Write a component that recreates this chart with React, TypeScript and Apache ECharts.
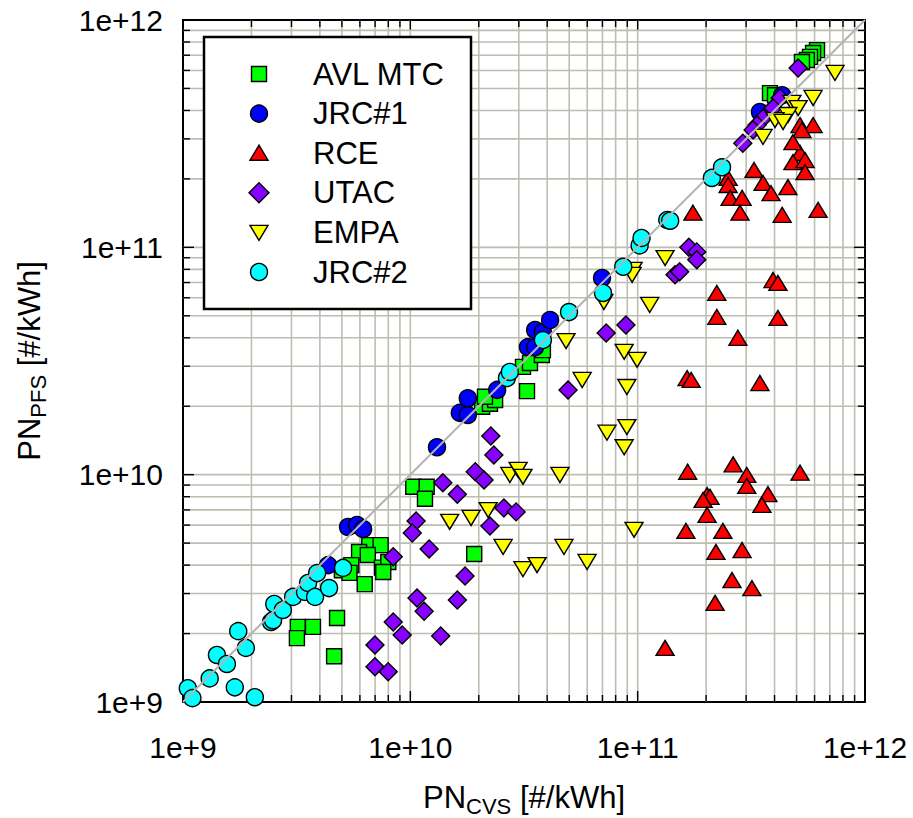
import React, { useEffect, useRef } from 'react';
import * as echarts from 'echarts';

const FONT = '"Liberation Sans", Arial, Helvetica, sans-serif';

const seriesNames = ['AVL MTC', 'JRC#1', 'RCE', 'UTAC', 'EMPA', 'JRC#2'];
const seriesColors = ['#00ff00', '#0000ff', '#ff0000', '#8800ff', '#ffff00', '#00ffff'];

const tickValues = [1e9, 1e10, 1e11, 1e12];
const xTickLabels = ['1e+9', '1e+10', '1e+11', '1e+12'];
const yTickLabels = ['1e+9', '1e+10', '1e+11', '1e+12'];
const gridDecades = [1e9, 1e10, 1e11];
const gridMultipliers = [1, 2, 3, 4, 5, 6, 7, 8, 9];

const xAxisName = ['PN', 'CVS', ' [#/kWh]'];
const yAxisName = ['PN', 'PFS', ' [#/kWh]'];

const avlMtc: [number, number][] = [
  [6.6e9, 4.9e9], [7.4e9, 4.9e9], [5.95e9, 4.57e9], [6.5e9, 4.43e9], [5.5e9, 4.0e9],
  [5.0e9, 3.8e9], [5.4e9, 3.7e9], [7.5e9, 3.9e9], [8.0e9, 4.13e9], [6.3e9, 3.3e9],
  [4.76e9, 2.34e9], [3.2e9, 2.14e9], [3.73e9, 2.14e9], [3.17e9, 1.91e9], [4.62e9, 1.59e9],
  [1.03e10, 8.85e9], [1.18e10, 8.85e9], [1.16e10, 7.83e9], [7.6e9, 3.73e9], [1.91e10, 4.48e9],
  [2.07e10, 1.99e10], [2.24e10, 2.05e10], [2.36e10, 2.13e10], [2.13e10, 2.2e10], [3.26e10, 2.33e10],
  [3.13e10, 2.98e10], [3.36e10, 3.1e10], [3.79e10, 3.36e10], [3.83e10, 3.53e10],
  [6.15e11, 7.37e11], [5.91e11, 7.16e11], [5.73e11, 6.88e11], [5.55e11, 6.67e11], [5.28e11, 6.54e11],
  [3.82e11, 4.77e11], [4.02e11, 4.67e11],
];

const jrc1: [number, number][] = [
  [4.35e9, 4.0e9], [5.32e9, 5.89e9], [5.83e9, 6.01e9], [6.2e9, 5.77e9], [1.31e10, 1.32e10],
  [1.65e10, 1.87e10], [1.79e10, 1.83e10], [1.79e10, 2.17e10], [2.41e10, 2.36e10], [3.29e10, 3.64e10],
  [3.54e10, 3.64e10], [3.54e10, 4.33e10], [3.83e10, 4.24e10], [4.12e10, 4.79e10], [6.97e10, 7.33e10],
  [3.45e11, 3.94e11], [4.32e11, 4.67e11],
];

const rce: [number, number][] = [
  [5.18e11, 2.6e11], [4.82e11, 2.37e11], [5.45e11, 2.42e11], [5.45e11, 2.14e11], [3.25e11, 2.19e11],
  [2.5e11, 2.02e11], [2.5e11, 1.88e11], [3.56e11, 1.92e11], [3.86e11, 1.73e11], [4.58e11, 1.84e11],
  [2.55e11, 1.65e11], [2.88e11, 1.65e11], [2.82e11, 1.42e11], [4.32e11, 1.39e11], [6.22e11, 1.46e11],
  [1.75e11, 1.42e11], [5.18e11, 3.45e11], [5.91e11, 3.45e11], [5.28e11, 3.28e11], [4.82e11, 2.9e11],
  [3.94e11, 7.18e10], [4.14e11, 6.97e10], [2.23e11, 6.3e10], [2.23e11, 4.94e10], [4.14e11, 4.89e10],
  [2.76e11, 4.0e10], [1.65e11, 2.66e10], [1.72e11, 2.61e10], [3.45e11, 2.53e10], [1.66e11, 1.03e10],
  [2.63e11, 1.11e10], [3.02e11, 9.97e9], [3.02e11, 8.92e9], [2.02e11, 8.13e9], [2.08e11, 7.99e9],
  [1.94e11, 7.74e9], [3.74e11, 8.21e9], [3.52e11, 7.36e9], [2.02e11, 6.65e9], [1.63e11, 5.66e9],
  [2.37e11, 5.66e9], [2.21e11, 4.57e9], [2.88e11, 4.66e9], [2.6e11, 3.44e9], [3.18e11, 3.17e9],
  [2.19e11, 2.73e9], [5.18e11, 1.02e10], [1.32e11, 1.73e9],
];

const utac: [number, number][] = [
  [8.41e9, 4.35e9], [8.41e9, 2.25e9], [9.21e9, 1.97e9], [6.99e9, 1.78e9], [6.99e9, 1.43e9],
  [7.99e9, 1.36e9], [4.94e10, 2.36e10], [2.26e10, 1.48e10], [2.33e10, 1.22e10], [1.93e10, 1.03e10],
  [2.11e10, 9.48e9], [1.39e10, 9.21e9], [1.61e10, 8.21e9], [2.58e10, 7.14e9], [2.92e10, 6.86e9],
  [2.24e10, 5.95e9], [1.06e10, 6.26e9], [1.02e10, 5.54e9], [1.21e10, 4.71e9], [1.74e10, 3.58e9],
  [1.07e10, 2.87e9], [1.15e10, 2.51e9], [1.36e10, 1.95e9], [1.61e10, 2.81e9], [1.68e11, 1.0e11],
  [1.82e11, 9.55e10], [1.82e11, 8.81e10], [1.46e11, 7.57e10], [1.53e11, 7.8e10], [8.88e10, 4.55e10],
  [7.27e10, 4.2e10], [5.08e11, 6.15e11], [4.23e11, 4.54e11], [3.94e11, 4.1e11], [3.56e11, 3.7e11],
  [3.35e11, 3.45e11], [3.22e11, 3.28e11], [2.9e11, 2.87e11],
];

const empa: [number, number][] = [
  [7.38e11, 5.85e11], [5.91e11, 4.54e11], [4.77e11, 4.32e11], [5.08e11, 4.1e11], [4.58e11, 3.82e11],
  [4.02e11, 3.63e11], [4.36e11, 3.56e11], [3.56e11, 3.06e11], [1.32e11, 8.97e10], [9.55e10, 7.96e10],
  [9.45e10, 7.57e10], [1.13e11, 5.58e10], [7.1e10, 5.75e10], [8.72e10, 3.47e10], [9.94e10, 3.2e10],
  [8.96e10, 2.43e10], [8.96e10, 1.62e10], [7.33e10, 1.53e10], [8.72e10, 1.32e10], [9.64e10, 5.72e9],
  [2.74e10, 9.97e9], [2.98e10, 1.05e10], [3.13e10, 9.78e9], [4.55e10, 9.97e9], [1.49e10, 6.2e9],
  [1.85e10, 6.45e9], [2.2e10, 6.99e9], [2.56e10, 4.81e9], [4.74e10, 4.81e9], [3.13e10, 3.84e9],
  [3.61e10, 4.0e9], [5.99e10, 4.13e9], [5.7e10, 2.61e10], [4.84e10, 3.87e10],
];

const jrc2: [number, number][] = [
  [1.05e9, 1.15e9], [1.1e9, 1.04e9], [1.31e9, 1.27e9], [1.41e9, 1.61e9], [1.56e9, 1.47e9],
  [1.69e9, 1.16e9], [1.75e9, 2.05e9], [1.89e9, 1.73e9], [2.07e9, 1.05e9], [2.44e9, 2.25e9],
  [2.49e9, 2.29e9], [2.52e9, 2.7e9], [2.75e9, 2.54e9], [3.05e9, 2.9e9], [3.44e9, 3.05e9],
  [3.55e9, 3.34e9], [3.81e9, 2.9e9], [3.89e9, 3.69e9], [4.39e9, 3.17e9], [5.06e9, 3.89e9],
  [2.66e10, 2.66e10], [2.74e10, 2.83e10], [3.83e10, 3.91e10], [4.99e10, 5.19e10], [7.04e10, 6.3e10],
  [8.64e10, 8.21e10], [1.02e11, 1.02e11], [1.04e11, 1.1e11], [1.35e11, 1.32e11], [1.39e11, 1.31e11],
  [2.12e11, 2.02e11], [2.35e11, 2.25e11],
];

const diagonal: [number, number][] = [[1e9, 1e9], [1e12, 1e12]];

const seriesData = [avlMtc, jrc1, rce, utac, empa, jrc2];
const seriesSymbols = ['rect', 'circle', 'triangle', 'diamond', 'triangle', 'circle'];
const seriesRotate = [0, 0, 0, 0, 180, 0];
const seriesSizes: any[] = [15, 17, [18, 15], [18, 18], [18, 15], 17];

const GRID_COLOR = '#bdbdb2';

function isMajor(v: number) {
  const l = Math.log10(v);
  return Math.abs(l - Math.round(l)) < 1e-6;
}

function labelFor(labels: string[]) {
  return (v: number) => {
    const i = tickValues.findIndex((t) => Math.abs(Math.log10(t) - Math.log10(v)) < 1e-6);
    return i >= 0 ? labels[i] : '';
  };
}

export default function App() {
  const ref = useRef<HTMLDivElement>(null);
  useEffect(() => {
    if (!ref.current) return;
    const chart = echarts.init(ref.current, null, { renderer: 'svg' });

    const gridValues: number[] = [];
    gridDecades.forEach((d) => gridMultipliers.forEach((m) => gridValues.push(m * d)));
    gridValues.push(1e12);

    const xGrid = {
      type: 'custom',
      silent: true,
      z: 1,
      encode: { x: 0, y: 1 },
      data: gridValues.map((v) => [v, 1e9]),
      renderItem: (params: any, api: any) => {
        const v = api.value(0);
        const cs = params.coordSys;
        const x = api.coord([v, 1e9])[0];
        const top = cs.y;
        const bottom = cs.y + cs.height;
        const len = isMajor(v) ? 11 : 7;
        const children: any[] = [];
        const edge = Math.abs(x - cs.x) < 1 || Math.abs(x - (cs.x + cs.width)) < 1;
        if (!edge) {
          children.push({ type: 'line', shape: { x1: x, y1: top, x2: x, y2: bottom }, style: { stroke: GRID_COLOR, lineWidth: 1.6 } });
          children.push({ type: 'line', shape: { x1: x, y1: bottom, x2: x, y2: bottom - len }, style: { stroke: '#000', lineWidth: 1.4 } });
          children.push({ type: 'line', shape: { x1: x, y1: top, x2: x, y2: top + len }, style: { stroke: '#000', lineWidth: 1.4 } });
        }
        return { type: 'group', children };
      },
    };

    const yGrid = {
      type: 'custom',
      silent: true,
      z: 1,
      encode: { x: 0, y: 1 },
      data: gridValues.map((v) => [1e9, v]),
      renderItem: (params: any, api: any) => {
        const v = api.value(1);
        const cs = params.coordSys;
        const y = api.coord([1e9, v])[1];
        const left = cs.x;
        const right = cs.x + cs.width;
        const len = isMajor(v) ? 11 : 7;
        const children: any[] = [];
        const edge = Math.abs(y - cs.y) < 1 || Math.abs(y - (cs.y + cs.height)) < 1;
        if (!edge) {
          children.push({ type: 'line', shape: { x1: left, y1: y, x2: right, y2: y }, style: { stroke: GRID_COLOR, lineWidth: 1.6 } });
          children.push({ type: 'line', shape: { x1: left, y1: y, x2: left + len, y2: y }, style: { stroke: '#000', lineWidth: 1.4 } });
          children.push({ type: 'line', shape: { x1: right, y1: y, x2: right - len, y2: y }, style: { stroke: '#000', lineWidth: 1.4 } });
        }
        return { type: 'group', children };
      },
    };

    const scatterSeries = seriesNames.map((name, i) => ({
      type: 'scatter',
      name,
      data: seriesData[i],
      symbol: seriesSymbols[i],
      symbolRotate: seriesRotate[i],
      symbolSize: seriesSizes[i],
      silent: true,
      z: 3,
      itemStyle: { color: seriesColors[i], borderColor: '#000', borderWidth: 1.4, opacity: 1 },
    }));

    const lx = 259;
    const tx = 313;
    const legendItems: any[] = [];
    seriesNames.forEach((name, i) => {
      const y = 74 + i * 39.6;
      const style = { fill: seriesColors[i], stroke: '#000', lineWidth: 1.4 };
      let icon: any;
      if (i === 0) icon = { type: 'rect', shape: { x: lx - 7.5, y: y - 7.5, width: 15, height: 15 }, style };
      else if (i === 1 || i === 5) icon = { type: 'circle', shape: { cx: lx, cy: y, r: 8.5 }, style };
      else if (i === 2) icon = { type: 'polygon', shape: { points: [[lx, y - 8], [lx + 9, y + 7], [lx - 9, y + 7]] }, style };
      else if (i === 3) icon = { type: 'polygon', shape: { points: [[lx, y - 10], [lx + 10, y], [lx, y + 10], [lx - 10, y]] }, style };
      else icon = { type: 'polygon', shape: { points: [[lx - 9, y - 7], [lx + 9, y - 7], [lx, y + 8]] }, style };
      legendItems.push({ ...icon, z: 20 });
      legendItems.push({
        type: 'text',
        x: tx,
        y,
        z: 20,
        style: { text: name, fontSize: 31, fontFamily: FONT, fill: '#000', align: 'left', verticalAlign: 'middle' },
      });
    });

    const rich = {
      a: { fontSize: 31, fontFamily: FONT, fill: '#000', color: '#000' },
      s: { fontSize: 22, fontFamily: FONT, fill: '#000', color: '#000', padding: [18, 0, 0, 0] },
    };
    const titleText = (parts: string[]) => `{a|${parts[0]}}{s|${parts[1]}}{a|${parts[2]}}`;

    chart.setOption({
      animation: false,
      backgroundColor: '#fff',
      grid: { left: 183, top: 20, width: 682, height: 682, show: true, borderColor: '#000', borderWidth: 2, backgroundColor: 'transparent' },
      xAxis: {
        type: 'log', logBase: 10, min: 1e9, max: 1e12,
        axisLine: { show: false }, axisTick: { show: false }, splitLine: { show: false },
        axisLabel: { fontSize: 30, fontFamily: FONT, color: '#000', margin: 30, formatter: labelFor(xTickLabels) },
      },
      yAxis: {
        type: 'log', logBase: 10, min: 1e9, max: 1e12,
        axisLine: { show: false }, axisTick: { show: false }, splitLine: { show: false },
        axisLabel: { fontSize: 30, fontFamily: FONT, color: '#000', margin: 20, formatter: labelFor(yTickLabels) },
      },
      series: [
        xGrid,
        yGrid,
        ...scatterSeries,
        {
          type: 'line',
          data: diagonal,
          symbol: 'none',
          silent: true,
          z: 4,
          lineStyle: { color: '#b4b4b4', width: 2 },
        },
      ],
      graphic: [
        {
          type: 'rect',
          shape: { x: 204, y: 37, width: 267, height: 272 },
          style: { fill: '#fff', stroke: '#000', lineWidth: 2.5 },
          z: 10,
        },
        ...legendItems,
        {
          type: 'text', x: 524, y: 797, z: 10,
          style: { text: titleText(xAxisName), rich, fontSize: 31, fontFamily: FONT, fill: '#000', align: 'center', verticalAlign: 'middle' },
        },
        {
          type: 'text', x: 29, y: 361, rotation: Math.PI / 2, z: 10,
          style: { text: titleText(yAxisName), rich, fontSize: 31, fontFamily: FONT, fill: '#000', align: 'center', verticalAlign: 'middle' },
        },
      ],
    } as any);

    return () => chart.dispose();
  }, []);

  return <div ref={ref} style={{ position: 'fixed', left: 0, top: 0, width: 913, height: 818, background: '#fff' }} />;
}
